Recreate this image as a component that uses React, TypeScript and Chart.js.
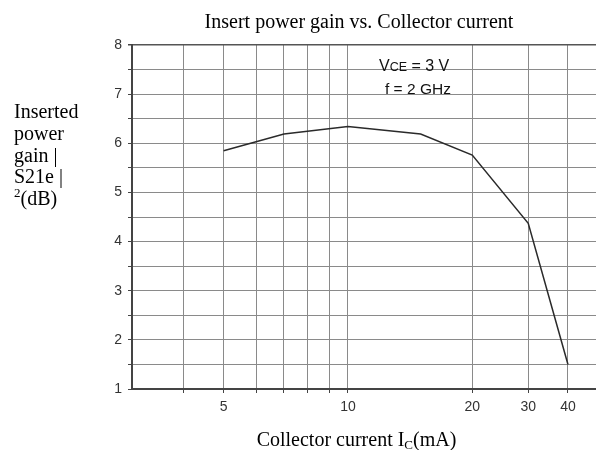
import React, { useEffect, useRef } from 'react';
import { Chart, registerables, LogarithmicScale } from 'chart.js';

// ---- data ----
const currentMA = [5, 7, 10, 15, 20, 30, 40];
const gainDB = [5.85, 6.19, 6.34, 6.19, 5.76, 4.37, 1.5];
const xGridValues = [4, 5, 6, 7, 8, 9, 10, 20, 30, 40];
const xLabelValues = [5, 10, 20, 30, 40];
const yLabelLines = ['Inserted', 'power', 'gain |', 'S21e |'];
const titleText = 'Insert power gain vs. Collector current';

// ---- axis warp (the reference compresses the log axis above 20 mA) ----
const WARP_KNEE = 20;
const WARP_FACTOR = 0.77;
const warp = (v: number) => {
  const l = Math.log10(v);
  const k = Math.log10(WARP_KNEE);
  return l <= k ? l : k + (l - k) * WARP_FACTOR;
};
const unwarp = (u: number) => {
  const k = Math.log10(WARP_KNEE);
  return u <= k ? Math.pow(10, u) : Math.pow(10, k + (u - k) / WARP_FACTOR);
};

class WarpedLogScale extends LogarithmicScale {
  static id = 'warpedLog';
  static defaults = LogarithmicScale.defaults;
  getPixelForValue(value: any) {
    if (value === undefined || value === 0) value = this.min;
    if (value === null || isNaN(value)) return NaN;
    const s = warp(this.min);
    const e = warp(this.max);
    return this.getPixelForDecimal((warp(value) - s) / (e - s));
  }
  getValueForPixel(pixel: number) {
    const s = warp(this.min);
    const e = warp(this.max);
    const d = this.getDecimalForPixel(pixel);
    return unwarp(s + d * (e - s));
  }
}

Chart.register(...registerables, WarpedLogScale);

const SERIF = '"Liberation Serif", "Times New Roman", serif';
const SANS = '"Liberation Sans", Arial, sans-serif';

const textPlugin = {
  id: 'textPlugin',
  afterDraw(chart: any) {
    const ctx = chart.ctx as CanvasRenderingContext2D;
    ctx.save();
    ctx.fillStyle = '#000';
    ctx.textBaseline = 'alphabetic';

    // title
    ctx.font = `20px ${SERIF}`;
    ctx.textAlign = 'center';
    ctx.fillText(titleText, 359, 28);

    // y label (horizontal, multi-line)
    ctx.textAlign = 'left';
    const baselines = [118, 140, 161.5, 183];
    yLabelLines.forEach((t, i) => ctx.fillText(t, 14, baselines[i]));
    ctx.font = `13px ${SERIF}`;
    ctx.fillText('2', 14, 197);
    const w2 = ctx.measureText('2').width;
    ctx.font = `20px ${SERIF}`;
    ctx.fillText('(dB)', 14 + w2, 204.5);

    // x title: Collector current I_C(mA)
    const p1 = 'Collector current I';
    const p2 = 'C';
    const p3 = '(mA)';
    ctx.font = `20px ${SERIF}`;
    const w1 = ctx.measureText(p1).width;
    const w3 = ctx.measureText(p3).width;
    ctx.font = `13px ${SERIF}`;
    const wc = ctx.measureText(p2).width;
    let x = 356.5 - (w1 + wc + w3) / 2;
    ctx.font = `20px ${SERIF}`;
    ctx.fillText(p1, x, 446);
    x += w1;
    ctx.font = `13px ${SERIF}`;
    ctx.fillText(p2, x, 449);
    x += wc;
    ctx.font = `20px ${SERIF}`;
    ctx.fillText(p3, x, 446);

    // annotation
    ctx.fillStyle = '#111';
    let ax = 379;
    ctx.font = `16px ${SANS}`;
    ctx.fillText('V', ax, 71);
    ax += ctx.measureText('V').width;
    ctx.font = `12.5px ${SANS}`;
    ctx.fillText('CE', ax, 71);
    ax += ctx.measureText('CE').width;
    ctx.font = `16px ${SANS}`;
    ctx.fillText(' = 3 V', ax, 71);
    ctx.font = `15.5px ${SANS}`;
    ctx.fillText('f = 2 GHz', 385, 94);

    ctx.restore();
  },
};

export default function App() {
  const ref = useRef<HTMLCanvasElement | null>(null);
  useEffect(() => {
    if (!ref.current) return;
    const chart = new Chart(ref.current, {
      type: 'line',
      data: {
        datasets: [
          {
            data: currentMA.map((c, i) => ({ x: c, y: gainDB[i] })),
            borderColor: '#2a2a2a',
            borderWidth: 1.5,
            pointRadius: 0,
            fill: false,
            tension: 0,
          },
        ],
      },
      options: {
        animation: false,
        responsive: false,
        layout: { padding: { top: 45, left: 0, right: 0, bottom: 0 } },
        plugins: {
          legend: { display: false },
          title: { display: false },
          tooltip: { enabled: false },
        },
        scales: {
          x: {
            type: 'warpedLog' as any,
            min: 3,
            max: 49,
            afterBuildTicks: (scale: any) => {
              scale.ticks = xGridValues.map((v) => ({ value: v }));
            },
            afterFit: (scale: any) => {
              scale.height = 61;
            },
            grid: {
              color: '#8a8a8a',
              lineWidth: 1,
              tickLength: 4,
              tickColor: '#444',
            },
            border: { color: '#444', width: 2 },
            ticks: {
              autoSkip: false,
              maxRotation: 0,
              padding: 6,
              color: '#333',
              font: { family: SANS, size: 14 },
              callback: (v: any) => (xLabelValues.includes(Number(v)) ? String(v) : ''),
            },
          },
          y: {
            type: 'linear',
            min: 1,
            max: 8,
            afterFit: (scale: any) => {
              scale.width = 132;
            },
            grid: {
              color: (c: any) => (c.tick && c.tick.value === 8 ? '#555' : '#8a8a8a'),
              lineWidth: (c: any) => (c.tick && c.tick.value === 8 ? 1.5 : 1),
              tickLength: 4,
              tickColor: '#444',
            },
            border: { color: '#444', width: 2 },
            ticks: {
              stepSize: 0.5,
              padding: 6,
              color: '#333',
              font: { family: SANS, size: 14 },
              callback: (v: any) => (Number.isInteger(Number(v)) ? String(v) : ''),
            },
          },
        },
      },
      plugins: [textPlugin],
    });
    return () => chart.destroy();
  }, []);
  return (
    <div style={{ position: 'absolute', left: 0, top: 0, width: 596, height: 450, background: '#fff' }}>
      <canvas ref={ref} width={596} height={450} />
    </div>
  );
}
